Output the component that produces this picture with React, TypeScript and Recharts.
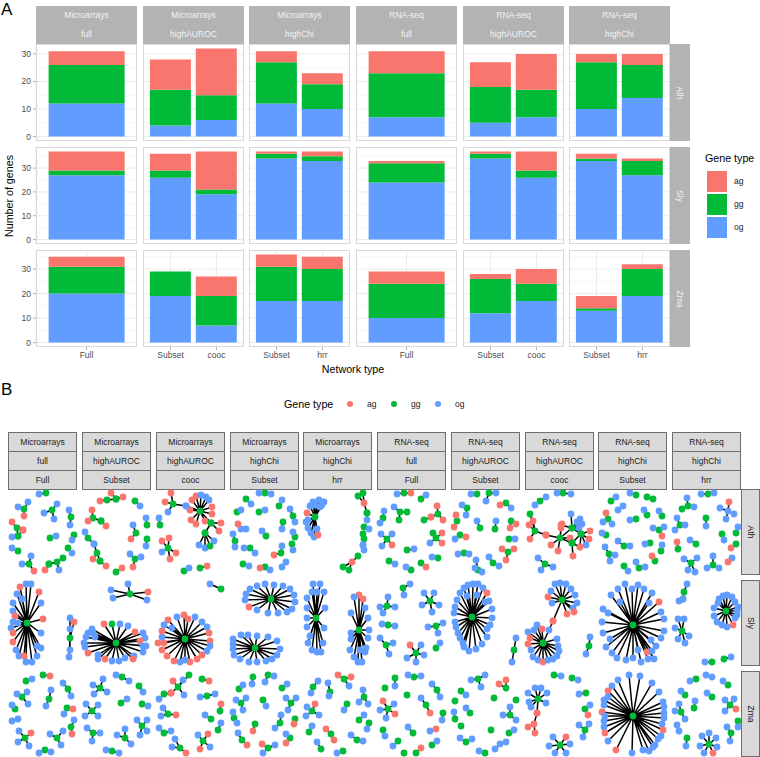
import { BarChart, Bar, XAxis, YAxis, CartesianGrid, ScatterChart, Scatter } from "recharts";

const FONT = "'Liberation Sans', Arial, sans-serif";
const RED = "#F8766D";
const GREEN = "#00BA38";
const BLUE = "#619CFF";
const NODE_COLORS: Record<string, string> = { a: RED, g: GREEN, o: BLUE };

const methods = ["Microarrays", "Microarrays", "Microarrays", "RNA-seq", "RNA-seq", "RNA-seq"];
const subsets = ["full", "highAUROC", "highChi", "full", "highAUROC", "highChi"];
const networkTypes = [["Full"], ["Subset", "cooc"], ["Subset", "hrr"], ["Full"], ["Subset", "cooc"], ["Subset", "hrr"]];
const species = ["Ath", "Sly", "Zma"];
const yMax = [33.6, 38.85, 37.8];
const yMin = [-1.6, -1.85, -1.8];
const yTicks = [0, 10, 20, 30];
const yMinor = [5, 15, 25, 35];

const ogCounts = [
  [[12], [4, 6], [12, 10], [7], [5, 7], [10, 14]],
  [[27], [26, 19], [34, 33], [24], [34, 26], [33, 27]],
  [[20], [19, 7], [17, 17], [10], [12, 17], [13, 19]],
];
const ggCounts = [
  [[14], [13, 9], [15, 9], [16], [13, 10], [17, 12]],
  [[2], [3, 2], [2, 2], [8], [2, 3], [1, 6]],
  [[11], [10, 12], [14, 13], [14], [14, 7], [1, 11]],
];
const agCounts = [
  [[5], [11, 17], [4, 4], [8], [9, 13], [3, 4]],
  [[8], [7, 16], [1, 2], [1], [1, 8], [2, 1]],
  [[4], [0, 8], [5, 5], [5], [2, 6], [5, 2]],
];

const stripMethodsB = ["Microarrays", "Microarrays", "Microarrays", "Microarrays", "Microarrays", "RNA-seq", "RNA-seq", "RNA-seq", "RNA-seq", "RNA-seq"];
const stripSubsetsB = ["full", "highAUROC", "highAUROC", "highChi", "highChi", "full", "highAUROC", "highAUROC", "highChi", "highChi"];
const stripNetworksB = ["Full", "Subset", "cooc", "Subset", "hrr", "Full", "Subset", "cooc", "Subset", "hrr"];

// each entry: hub first, then the nodes linked to it, as type, x, y triples
type Star = (string | number)[];

const athStars: Star[] = [
  ["g",46,493,"o",39,494],
  ["g",24,509,"o",18,507,"o",28,502,"a",24,516],
  ["g",52,510,"o",57,504,"o",44,513,"o",54,519],
  ["g",71,517,"o",69,510,"o",70,525],
  ["g",17,528,"a",12,522,"a",23,530,"g",18,536],
  ["g",18,536,"a",23,530,"o",12,537],
  ["g",50,538,"o",56,536],
  ["g",74,535,"o",72,540],
  ["g",18,551,"o",12,548],
  ["g",68,548,"o",72,553],
  ["g",29,564,"o",31,556,"o",22,564,"a",34,571],
  ["g",57,562,"g",49,564,"g",63,558,"o",59,570],
  ["g",49,564,"a",45,570],
  ["g",107,500,"a",100,501,"g",116,499],
  ["g",116,499,"a",111,493,"a",123,497],
  ["g",135,501,"o",140,506],
  ["g",93,518,"a",92,510,"a",88,521,"g",101,521],
  ["g",101,521,"a",106,526],
  ["g",147,525,"o",146,518],
  ["g",136,533,"o",133,525,"a",131,539],
  ["g",88,538,"o",85,532,"o",94,544],
  ["g",97,553,"o",94,544,"g",100,561,"a",93,559],
  ["g",100,561,"a",106,566],
  ["g",147,539,"o",146,546],
  ["g",135,559,"o",130,554,"o",141,557,"a",133,567],
  ["g",116,572,"a",122,568],
  ["g",173,504,"a",171,493,"a",165,502,"o",168,512,"o",186,506],
  ["g",160,525,"o",159,518],
  ["g",200,511,"a",192,500,"a",196,496,"o",201,495,"o",206,497,"o",209,500,"a",212,507,"a",190,510,"a",212,514,"o",186,506,"a",191,520,"a",196,524,"a",205,521,"g",211,523],
  ["g",211,523,"a",221,523,"a",219,531,"g",205,533],
  ["g",205,533,"o",214,541,"o",199,545,"o",205,548,"g",210,546],
  ["g",168,548,"a",162,541,"a",169,538,"o",162,552,"a",176,553,"a",170,559],
  ["g",184,571,"o",189,568],
  ["g",200,568,"a",207,566],
  ["g",265,493,"o",259,493,"o",271,494],
  ["g",246,499,"o",251,504],
  ["g",279,506,"o",282,500],
  ["g",259,512,"o",265,510],
  ["g",293,516,"o",290,509,"o",295,522],
  ["g",237,512,"o",241,510],
  ["o",241,529,"a",238,524,"o",246,529],
  ["g",283,522,"o",282,529],
  ["g",266,536,"o",262,531],
  ["g",235,541,"o",233,534,"o",235,547],
  ["g",295,537,"o",293,532],
  ["g",250,548,"o",244,548,"o",255,553],
  ["g",292,544,"o",293,550],
  ["g",281,553,"o",282,546,"a",274,555],
  ["o",286,562,"o",282,567],
  ["g",243,564,"o",249,566],
  ["g",265,567,"a",260,568,"o",270,570],
  ["g",315,517,"o",313,502,"o",319,500,"o",324,502,"o",310,506,"o",315,505,"o",320,507,"a",307,513,"o",308,520,"o",306,522,"o",308,528,"o",317,529,"o",311,533,"o",314,537,"a",318,535,"o",322,505],
  ["a",364,503,"g",358,496,"g",363,493,"g",367,513],
  ["g",367,513,"o",367,520],
  ["g",364,527,"o",369,529],
  ["g",364,539,"g",363,534,"o",363,545],
  ["o",363,545,"o",364,550],
  ["a",352,562,"g",358,556,"g",349,570,"g",343,567],
  ["g",404,493,"o",397,494,"a",411,493],
  ["g",421,499,"o",426,495],
  ["g",383,518,"o",384,511,"o",380,523],
  ["g",400,512,"o",394,507,"g",407,512,"g",399,520],
  ["g",438,514,"a",437,506,"a",431,517,"a",443,520],
  ["a",431,517,"g",424,520],
  ["g",387,539,"o",381,534,"o",392,534,"o",382,546,"a",392,545],
  ["g",436,538,"g",433,533,"a",442,533,"o",430,543,"a",442,543],
  ["g",407,550,"o",414,549],
  ["g",438,558,"o",432,557],
  ["g",389,561,"o",395,564],
  ["g",421,563,"a",426,567],
  ["g",411,570,"o",406,567],
  ["g",477,494,"o",471,494],
  ["g",489,493,"o",496,493,"o",486,501],
  ["g",506,503,"a",500,505,"o",511,508],
  ["g",467,508,"o",462,505,"o",466,515],
  ["g",457,521,"a",456,515,"a",454,527],
  ["g",480,528,"o",477,521],
  ["g",495,529,"o",496,521],
  ["g",511,521,"a",516,524,"a",510,528],
  ["g",460,535,"o",455,539,"a",466,537],
  ["g",509,539,"o",515,539],
  ["g",464,553,"o",458,554,"o",469,554],
  ["g",508,552,"a",502,549,"a",514,549,"a",506,560],
  ["g",493,563,"o",489,557,"o",499,566],
  ["g",478,570,"o",476,560,"o",475,568,"o",482,572],
  ["g",540,501,"o",535,505,"o",546,497],
  ["g",563,493,"o",557,493,"o",571,494],
  ["g",535,531,"g",530,514,"a",533,521,"a",529,525,"a",530,539,"a",546,535],
  ["g",560,538,"a",546,535,"g",572,528,"g",572,543,"a",551,545,"a",558,551,"a",562,524,"a",561,528,"a",570,538],
  ["g",572,528,"o",571,514,"a",561,525,"o",577,522,"o",580,519,"o",582,524,"o",579,528,"g",581,534],
  ["g",581,534,"a",590,531,"a",589,539,"o",586,545,"g",572,543,"a",580,547],
  ["g",572,543,"a",573,556,"a",580,547],
  ["g",545,564,"o",538,558,"o",553,567,"o",541,570],
  ["g",636,495,"o",630,493],
  ["g",611,501,"o",616,497],
  ["g",647,497,"g",653,499],
  ["o",618,510,"o",623,506],
  ["g",647,515,"o",644,510],
  ["g",662,516,"o",659,511],
  ["g",608,519,"a",606,513,"o",603,522,"o",612,524],
  ["g",636,519,"o",630,520],
  ["g",659,530,"o",653,528,"o",664,527,"a",662,536],
  ["g",606,535,"o",602,533],
  ["g",624,546,"o",618,541,"o",630,546],
  ["g",650,543,"o",645,544],
  ["g",661,551,"o",662,545],
  ["g",609,554,"o",605,547,"o",615,555,"o",610,561],
  ["g",655,561,"a",652,556],
  ["g",639,568,"o",636,562,"o",645,567],
  ["g",624,566,"o",628,571],
  ["g",708,494,"o",701,494,"o",714,493],
  ["g",688,506,"o",687,498,"g",682,509,"o",694,507],
  ["o",728,511,"a",729,502,"o",720,508,"o",734,514,"o",726,519],
  ["g",680,525,"o",677,518,"o",675,530,"o",685,525],
  ["g",706,518,"o",706,526],
  ["g",722,534,"o",724,540],
  ["g",736,533,"o",738,527],
  ["g",678,549,"a",677,542],
  ["g",696,544,"o",690,540],
  ["g",736,544,"a",731,548],
  ["g",691,563,"o",684,559,"o",697,558,"o",688,570,"o",695,572],
  ["g",713,565,"o",713,556,"o",707,568,"o",719,568],
  ["o",732,558,"a",728,562],
];

const slyStars: Star[] = [
  ["g",27,623,"a",20,587,"o",26,584,"o",31,584,"a",39,592,"o",17,594,"o",13,603,"o",22,599,"o",41,603,"o",13,611,"a",15,616,"a",43,619,"o",13,622,"o",11,628,"o",18,623,"a",13,633,"o",41,633,"a",13,642,"o",16,650,"o",37,646,"o",41,648,"o",19,656,"a",24,656,"o",37,656,"o",26,662,"o",32,662],
  ["g",70,638,"o",70,618,"a",74,622,"o",70,629,"o",70,650,"o",69,657],
  ["g",130,594,"o",128,584,"o",111,590,"a",148,592,"o",113,598,"o",147,600],
  ["g",116,643,"o",88,633,"a",104,624,"g",112,624,"o",120,624,"o",128,626,"a",135,632,"o",143,633,"o",145,638,"a",140,641,"o",143,646,"o",146,646,"o",143,652,"o",134,656,"a",133,659,"o",125,658,"o",119,661,"o",112,661,"a",105,659,"o",98,659,"a",88,653,"o",85,647,"o",84,643,"o",86,637,"o",92,629,"o",95,637,"o",98,655,"o",93,633],
  ["g",221,589,"o",210,584],
  ["g",185,639,"a",184,615,"a",168,620,"o",177,617,"a",188,619,"o",195,617,"o",202,622,"o",207,627,"a",209,633,"a",210,641,"o",210,646,"o",207,651,"a",202,655,"a",197,659,"a",190,662,"o",185,660,"o",180,662,"a",174,661,"a",167,656,"a",162,650,"a",164,643,"a",158,643,"o",162,637,"a",162,631,"o",164,625,"o",172,628],
  ["g",271,599,"o",265,584,"o",274,585,"o",283,586,"o",257,586,"o",250,589,"o",246,594,"o",290,589,"o",294,595,"o",295,602,"o",292,609,"o",287,612,"o",278,613,"o",268,613,"o",257,610,"a",249,607,"o",245,600],
  ["g",255,648,"o",241,635,"o",248,635,"o",257,636,"o",268,637,"o",277,641,"o",280,649,"o",277,655,"o",272,659,"o",266,661,"o",257,662,"o",249,662,"o",240,659,"o",234,655,"o",233,649,"o",233,644,"o",233,639],
  ["g",316,618,"o",313,584,"o",320,584,"o",312,592,"o",317,592,"o",324,592,"o",307,598,"o",307,608,"o",325,608,"o",307,618,"o",307,627,"o",324,628,"o",310,636,"o",323,643,"o",308,643,"o",312,650,"o",317,652,"o",321,652],
  ["g",359,630,"a",359,595,"a",363,599,"o",354,597,"o",365,608,"o",351,613,"o",368,618,"o",351,633,"o",369,630,"o",351,639,"o",368,638,"o",366,648,"o",350,650,"o",354,657,"o",358,662,"o",362,662,"o",360,650,"o",365,652],
  ["g",387,606,"o",388,597,"o",395,607,"o",380,607,"o",383,613],
  ["g",403,588,"o",410,584,"o",404,595],
  ["g",430,601,"o",424,593,"o",434,593,"o",422,605,"o",439,605,"o",432,612],
  ["g",388,625,"o",382,624,"o",395,626],
  ["g",436,626,"o",428,627,"o",443,623,"o",438,633],
  ["g",386,645,"o",380,638,"o",393,643,"o",389,654],
  ["g",416,653,"a",410,645,"o",421,645,"o",407,658,"o",424,655,"o",416,662],
  ["g",436,648,"o",440,643],
  ["g",472,617,"o",460,593,"o",464,588,"o",468,585,"o",473,584,"o",478,584,"o",483,588,"a",487,593,"o",489,601,"o",485,602,"o",467,596,"o",477,595,"o",457,600,"o",455,607,"o",454,613,"o",492,609,"o",492,618,"o",455,622,"o",490,625,"o",456,627,"o",487,629,"o",458,633,"o",487,637,"o",460,638,"o",463,643,"o",482,644,"o",464,647,"o",469,651,"o",476,649],
  ["g",514,650,"o",516,638,"o",512,662],
  ["g",562,600,"o",555,584,"o",560,583,"o",566,584,"o",571,589,"o",575,595,"o",577,603,"o",573,608,"a",567,614,"a",574,612,"a",548,597,"o",552,603,"o",551,591,"a",553,621],
  ["o",549,630,"a",553,621,"g",543,643],
  ["g",543,643,"o",537,625,"a",542,629,"o",528,632,"a",530,638,"a",528,644,"o",531,650,"o",533,657,"o",538,660,"a",543,662,"o",548,660,"o",553,659,"o",557,656,"o",559,651,"o",558,646,"o",557,639,"o",534,630],
  ["g",589,646,"o",590,637,"o",586,654],
  ["g",633,625,"o",625,584,"o",638,585,"o",632,589,"o",644,589,"o",618,589,"o",652,593,"o",611,595,"a",659,602,"o",620,602,"o",603,609,"o",649,603,"o",661,612,"o",608,613,"o",602,622,"o",664,619,"o",603,633,"o",664,631,"o",610,639,"o",661,638,"o",651,640,"o",606,647,"o",656,646,"o",612,653,"o",638,650,"a",647,652,"o",652,651,"o",617,658,"o",626,660,"o",633,658,"o",641,662,"o",648,659,"o",654,659],
  ["g",684,592,"o",687,584,"o",683,599],
  ["o",683,599,"o",679,601],
  ["g",682,631,"o",678,619,"o",684,619,"o",675,628,"o",689,636,"o",678,639,"o",685,643],
  ["g",726,611,"o",719,599,"o",723,596,"o",727,595,"o",732,597,"o",735,602,"o",738,607,"o",737,611,"o",737,615,"o",735,618,"a",733,625,"o",727,627,"o",722,625,"o",717,622,"o",714,616,"o",714,608,"o",718,603],
  ["g",712,662,"o",705,662],
  ["g",724,659,"o",731,657],
];

const zmaStars: Star[] = [
  ["g",26,681,"o",32,679],
  ["g",43,675,"a",50,676],
  ["g",68,689,"o",63,683,"o",71,696],
  ["g",22,697,"o",17,694,"o",27,692,"o",28,704],
  ["g",49,699,"o",51,690,"o",46,706],
  ["g",15,709,"o",12,705],
  ["g",67,708,"a",73,709,"o",64,714],
  ["o",12,721,"o",18,719],
  ["g",71,727,"o",74,720,"a",72,734],
  ["g",25,738,"o",19,731,"a",31,733,"o",18,742,"o",29,746],
  ["g",57,738,"o",50,734,"o",63,731,"o",61,745],
  ["g",45,750,"o",39,753,"o",51,752],
  ["g",100,688,"o",103,679,"o",93,685,"o",94,694,"o",107,692],
  ["g",122,677,"o",116,675,"o",129,681],
  ["g",139,686,"o",143,692],
  ["g",121,703,"o",127,699],
  ["g",142,704,"o",148,706],
  ["g",92,711,"o",86,704,"o",98,705,"o",85,716,"o",98,716],
  ["g",142,726,"o",137,720,"o",147,720,"o",147,731,"o",140,735],
  ["g",93,733,"o",87,728,"o",100,733,"o",92,741],
  ["g",125,738,"o",125,729,"o",117,735,"o",131,744],
  ["g",112,751,"o",106,750,"o",119,753],
  ["g",178,687,"g",189,675,"a",173,681,"o",183,680,"a",171,693,"o",184,695],
  ["g",164,694,"a",171,693,"o",159,699],
  ["g",202,679,"a",209,681],
  ["g",207,696,"o",200,697,"o",215,694],
  ["g",220,711,"a",221,704],
  ["g",168,714,"o",163,708,"o",161,716,"a",176,715],
  ["g",211,719,"o",205,715],
  ["g",218,730,"o",221,723],
  ["g",164,733,"o",159,728,"o",171,731],
  ["g",203,741,"o",198,735,"a",208,734,"a",200,749,"o",210,747],
  ["g",180,748,"o",175,739,"o",172,747,"a",186,753],
  ["g",253,677,"o",252,684],
  ["g",268,675,"o",274,676,"o",265,682],
  ["g",239,689,"o",243,685],
  ["g",282,688,"o",287,684],
  ["g",241,703,"o",236,700,"o",246,698,"o",243,710],
  ["g",263,700,"o",266,706],
  ["g",291,703,"o",286,698,"o",296,698,"o",288,710],
  ["g",234,718,"o",233,712,"o",237,723],
  ["g",280,723,"o",281,715,"o",275,728],
  ["g",295,719,"a",294,724],
  ["g",255,724,"a",253,731],
  ["g",242,740,"o",238,733,"a",247,745],
  ["g",290,738,"o",286,734,"a",286,743],
  ["g",268,748,"a",262,744,"o",275,745,"o",263,753],
  ["g",344,679,"a",338,675,"a",351,677,"o",349,686],
  ["g",313,687,"o",318,681,"o",311,693],
  ["g",330,692,"o",328,683,"o",329,696],
  ["g",364,697,"o",363,690,"o",359,702,"o",368,704],
  ["g",312,711,"a",315,704,"o",307,707,"o",319,715,"o",306,716],
  ["g",347,704,"o",344,710],
  ["g",359,720,"o",364,715],
  ["g",369,723,"o",367,729],
  ["g",309,732,"o",312,726],
  ["g",331,734,"a",326,729,"a",334,740],
  ["g",357,740,"o",351,735,"o",363,741],
  ["g",321,749,"o",317,742],
  ["g",343,751,"o",337,753],
  ["g",395,678,"o",395,686],
  ["g",414,677,"o",408,675,"o",421,676],
  ["g",385,688],
  ["g",437,690,"o",432,684,"o",440,697],
  ["g",407,695],
  ["g",388,709,"a",383,701,"o",394,704,"a",395,714,"o",380,710,"o",386,718],
  ["g",426,705,"o",421,698,"a",430,713],
  ["g",443,713,"o",442,720],
  ["g",383,730,"o",385,736],
  ["g",413,733,"o",408,727],
  ["o",430,731,"a",436,729],
  ["g",398,741,"o",393,746],
  ["g",432,745,"o",437,741],
  ["g",404,753],
  ["g",416,753,"a",421,748],
  ["g",478,679,"o",485,675,"o",471,680,"o",481,687],
  ["g",506,688,"a",506,680,"a",499,684],
  ["g",461,691,"o",466,695],
  ["g",494,698],
  ["g",455,701],
  ["g",516,700],
  ["g",510,715,"o",510,707,"o",503,715,"o",516,720],
  ["g",455,719,"o",454,712],
  ["g",470,713,"o",466,708],
  ["g",461,726],
  ["g",491,730],
  ["g",509,733,"o",514,730],
  ["g",466,742,"o",460,738,"o",472,739],
  ["o",500,744,"o",495,749,"o",506,742],
  ["g",485,753,"o",479,751],
  ["g",554,675,"o",561,676],
  ["g",572,678,"o",578,680],
  ["g",538,699,"o",535,688,"o",541,688,"o",528,693,"o",547,693,"o",529,702,"o",546,703,"o",531,707,"a",537,713],
  ["a",534,724,"a",537,713,"a",528,727,"a",535,733],
  ["g",586,693,"o",579,694],
  ["g",585,709,"o",590,705,"a",588,715],
  ["g",585,730,"o",579,725,"o",589,724,"o",583,737],
  ["g",560,745,"a",566,737,"o",553,737,"o",549,746,"o",570,744,"o",555,753,"o",566,753],
  ["g",633,716,"o",629,675,"o",640,676,"o",618,680,"o",652,683,"o",612,686,"a",608,691,"o",659,692,"o",604,700,"o",608,697,"o",663,702,"o",604,705,"o",664,707,"a",602,712,"o",664,713,"o",605,716,"o",664,718,"o",604,721,"o",662,724,"o",604,727,"a",663,730,"a",605,733,"o",661,736,"o",608,741,"o",658,739,"o",655,745,"a",616,750,"o",632,753,"o",643,750,"o",649,751,"o",653,747],
  ["g",696,679,"o",690,681],
  ["o",706,675,"o",712,677],
  ["g",728,685,"o",723,681],
  ["g",685,695,"o",681,691],
  ["g",712,697,"o",707,693],
  ["g",694,708,"o",695,701],
  ["g",730,705,"o",725,700,"o",734,699,"a",736,709,"o",725,711],
  ["g",681,712,"o",679,704,"o",675,711,"o",685,719],
  ["o",677,725,"o",679,731],
  ["g",738,721,"o",738,727],
  ["g",731,733,"o",727,727,"o",730,741],
  ["g",687,738,"o",686,746],
  ["g",709,744,"o",702,736,"o",709,733,"o",716,738,"o",700,746,"o",717,747,"o",704,753,"a",713,753],
];

const allStars = [...athStars, ...slyStars, ...zmaStars];

function starNodes(star: Star) {
  const nodes: { t: string; x: number; y: number }[] = [];
  for (let i = 0; i < star.length; i += 3) {
    nodes.push({ t: star[i] as string, x: star[i + 1] as number, y: star[i + 2] as number });
  }
  return nodes;
}

// hub, leaf, hub, leaf ... so one joint line draws all the edges of a star
function starPath(star: Star) {
  const [hub, ...leaves] = starNodes(star);
  return leaves.flatMap((leaf) => [hub, leaf]);
}

const allNodes = allStars.flatMap(starNodes);

const colLeft = [36, 143, 249, 356, 463, 569];
const PANEL_W = 101;
const rowTop = [44, 147, 250];
const PANEL_H = 97;
const AXIS_W = 22;
const AXIS_H = 17;

const colLeftB = [8, 82, 156, 230, 303, 377, 451, 525, 598, 672];
const stripRowsB = [432, 451, 470];
const rowBoxB = [
  [489, 86],
  [580, 86],
  [671, 86],
];

function Txt({ x, y, size = 8.5, color = "#1a1a1a", anchor = "middle", children }: any) {
  const tx = anchor === "middle" ? "-50%" : "0";
  return (
    <div style={{ position: "absolute", left: x, top: y, transform: `translate(${tx}, -50%)`, fontSize: size, color, whiteSpace: "nowrap", lineHeight: 1 }}>
      {children}
    </div>
  );
}

function VTxt({ x, y, size = 8.5, color = "#1a1a1a", angle = 90, children }: any) {
  return (
    <div style={{ position: "absolute", left: x, top: y, transform: `translate(-50%, -50%) rotate(${angle}deg)`, fontSize: size, color, whiteSpace: "nowrap", lineHeight: 1 }}>
      {children}
    </div>
  );
}

function Facet({ r, c }: { r: number; c: number }) {
  const cats = networkTypes[c];
  const data = cats.map((name, i) => ({
    name,
    og: ogCounts[r][c][i],
    gg: ggCounts[r][c][i],
    ag: agCounts[r][c][i],
  }));
  const pad = cats.length === 1 ? 8.4 : 4.6;
  const left = c === 0;
  const bottom = r === 2;
  return (
    <div style={{ position: "absolute", left: colLeft[c] - (left ? AXIS_W : 0), top: rowTop[r] }}>
      <BarChart
        width={PANEL_W + (left ? AXIS_W : 0)}
        height={PANEL_H + (bottom ? AXIS_H : 0)}
        data={data}
        margin={{ top: 0, right: 0, bottom: 0, left: 0 }}
        barCategoryGap="5%"
      >
        <CartesianGrid stroke="#f2f2f2" strokeWidth={0.7} horizontalValues={yMinor} vertical={false} />
        <CartesianGrid stroke="#ebebeb" strokeWidth={1} horizontalValues={yTicks} />
        <XAxis
          dataKey="name"
          height={bottom ? AXIS_H : 0}
          padding={{ left: pad, right: pad }}
          interval={0}
          axisLine={false}
          tickSize={3}
          tickLine={bottom ? { stroke: "#b3b3b3" } : false}
          tick={bottom ? { fontSize: 8.5, fill: "#4d4d4d", fontFamily: FONT } : false}
        />
        <YAxis
          type="number"
          domain={[yMin[r], yMax[r]]}
          ticks={yTicks}
          interval={0}
          hide={!left}
          width={AXIS_W}
          allowDataOverflow
          axisLine={false}
          tickSize={3}
          tickLine={{ stroke: "#b3b3b3" }}
          tick={{ fontSize: 8.5, fill: "#4d4d4d", fontFamily: FONT }}
        />
        <Bar dataKey="og" stackId="s" fill={BLUE} isAnimationActive={false} />
        <Bar dataKey="gg" stackId="s" fill={GREEN} isAnimationActive={false} />
        <Bar dataKey="ag" stackId="s" fill={RED} isAnimationActive={false} />
      </BarChart>
      <div
        style={{
          position: "absolute",
          left: left ? AXIS_W : 0,
          top: 0,
          width: PANEL_W,
          height: PANEL_H,
          boxSizing: "border-box",
          border: "1px solid #d9d9d9",
          pointerEvents: "none",
        }}
      />
    </div>
  );
}

const emptyDot = () => <g />;

function Networks() {
  return (
    <div style={{ position: "absolute", left: 0, top: 489 }}>
      <ScatterChart width={760} height={268} margin={{ top: 0, right: 0, bottom: 0, left: 0 }}>
        <XAxis type="number" dataKey="x" domain={[0, 760]} hide allowDataOverflow />
        <YAxis type="number" dataKey="y" domain={[489, 757]} reversed hide allowDataOverflow />
        {allStars
          .filter((s) => s.length > 3)
          .map((s, i) => (
            <Scatter
              key={i}
              data={starPath(s)}
              line={{ stroke: "#000", strokeWidth: 1.5 }}
              shape={emptyDot}
              isAnimationActive={false}
            />
          ))}
        <Scatter
          data={allNodes}
          isAnimationActive={false}
          shape={(p: any) => <circle cx={p.cx} cy={p.cy} r={3.4} fill={NODE_COLORS[p.payload?.t ?? p.t]} />}
        />
      </ScatterChart>
    </div>
  );
}

export default function App() {
  return (
    <div style={{ position: "absolute", left: 0, top: 0, width: 760, height: 757, background: "#fff", fontFamily: FONT, overflow: "hidden" }}>
      <Txt x={1} y={9} size={17} color="#000" anchor="start">A</Txt>
      <Txt x={1} y={389} size={17} color="#000" anchor="start">B</Txt>

      {colLeft.map((x, c) => (
        <div key={c}>
          <div style={{ position: "absolute", left: x, top: 6, width: PANEL_W, height: 38, background: "#B3B3B3" }} />
          <Txt x={x + PANEL_W / 2} y={15} color="#f2f2f2">{methods[c]}</Txt>
          <Txt x={x + PANEL_W / 2} y={34} color="#f2f2f2">{subsets[c]}</Txt>
        </div>
      ))}
      {rowTop.map((y, r) => (
        <div key={r}>
          <div style={{ position: "absolute", left: 670, top: y, width: 20, height: PANEL_H, background: "#B3B3B3" }} />
          <VTxt x={680} y={y + PANEL_H / 2} color="#f2f2f2">{species[r]}</VTxt>
        </div>
      ))}
      {rowTop.map((_, r) => colLeft.map((_, c) => <Facet key={`${r}-${c}`} r={r} c={c} />))}

      <VTxt x={9} y={196} size={10.7} color="#000" angle={-90}>Number of genes</VTxt>
      <Txt x={353} y={369} size={10.7} color="#000">Network type</Txt>

      <Txt x={705} y={158} size={10.7} color="#000" anchor="start">Gene type</Txt>
      {[["ag", RED, 171], ["gg", GREEN, 194], ["og", BLUE, 217]].map(([label, fill, y]: any) => (
        <div key={label}>
          <div style={{ position: "absolute", left: 707, top: y, width: 20, height: 21, background: fill }} />
          <Txt x={734} y={y + 10} anchor="start">{label}</Txt>
        </div>
      ))}

      <Txt x={284} y={404} size={10.7} color="#000" anchor="start">Gene type</Txt>
      {[["ag", RED, 350], ["gg", GREEN, 394], ["og", BLUE, 438]].map(([label, fill, x]: any) => (
        <div key={label}>
          <div style={{ position: "absolute", left: x - 3, top: 401, width: 6.4, height: 6.4, borderRadius: "50%", background: fill }} />
          <Txt x={x + 17} y={404} anchor="start">{label}</Txt>
        </div>
      ))}

      {colLeftB.map((x, c) => (
        <div key={c}>
          {[stripMethodsB[c], stripSubsetsB[c], stripNetworksB[c]].map((label, i) => (
            <div key={i}>
              <div
                style={{
                  position: "absolute",
                  left: x,
                  top: stripRowsB[i],
                  width: 69,
                  height: 19.5,
                  boxSizing: "border-box",
                  background: "#D9D9D9",
                  border: "1px solid #6e6e6e",
                }}
              />
              <Txt x={x + 34.5} y={stripRowsB[i] + 10}>{label}</Txt>
            </div>
          ))}
        </div>
      ))}
      {rowBoxB.map(([y, h], r) => (
        <div key={r}>
          <div style={{ position: "absolute", left: 741, top: y, width: 19, height: h, boxSizing: "border-box", background: "#D9D9D9", border: "1px solid #6e6e6e" }} />
          <VTxt x={751} y={y + h / 2}>{species[r]}</VTxt>
        </div>
      ))}

      <Networks />
    </div>
  );
}
